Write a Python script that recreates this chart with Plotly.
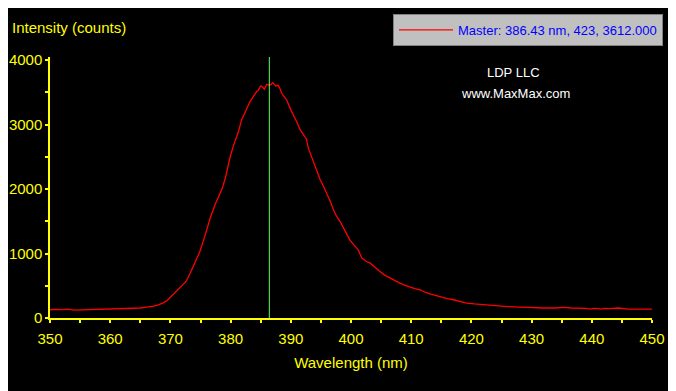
import plotly.graph_objects as go

wavelength_nm = [
    350.0, 351.0, 352.0, 353.0, 354.0, 355.0, 356.0, 357.0, 358.0, 359.0,
    360.0, 361.0, 362.0, 363.0, 364.0, 365.0, 366.0, 367.0, 368.0, 368.8,
    369.5, 370.0, 370.5, 371.0, 371.8, 372.6, 373.3, 374.1, 374.9, 375.7,
    376.6, 377.4, 378.0, 378.6, 379.1, 379.5, 379.9, 380.5, 381.3, 381.8,
    382.3, 382.7, 383.2, 383.9, 384.3, 384.6, 385.0, 385.3, 385.6, 386.0,
    386.43, 386.7, 387.0, 387.5, 387.9, 388.2, 388.5, 389.3, 390.1, 391.0,
    391.5, 392.0, 392.6, 392.9, 393.4, 394.0, 394.5, 394.9, 395.5, 396.0,
    396.6, 397.1, 397.6, 398.2, 399.0, 399.8, 400.5, 401.2, 401.8, 402.5,
    403.2, 404.0, 404.8, 405.6, 406.5, 407.3, 408.1, 409.0, 409.8, 410.6,
    411.5, 412.3, 413.1, 414.0, 414.8, 416.0, 417.0, 418.0, 419.2, 420.5,
    422.0, 423.0, 424.2, 426.0, 428.1, 429.5, 430.8, 432.0, 434.0, 435.5,
    436.5, 438.0, 439.0, 439.7, 440.3, 441.0, 441.6, 442.0, 443.0, 444.4,
    445.0, 446.0, 448.0, 450.0,
]
intensity_counts = [
    128, 135, 130, 138, 122, 125, 128, 130, 133, 136,
    138, 139, 140, 143, 150, 155, 168, 180, 205, 235,
    275, 320, 365, 412, 490, 567, 697, 851, 1031, 1263,
    1548, 1754, 1882, 2010, 2160, 2330, 2490, 2683, 2889, 3070,
    3160, 3251, 3353, 3467, 3510, 3534, 3601, 3585, 3550, 3627,
    3612, 3625, 3653, 3601, 3611, 3560, 3483, 3385, 3210, 3043,
    2930, 2860, 2775, 2640, 2520, 2373, 2245, 2141, 2030, 1935,
    1800, 1676, 1580, 1495, 1350, 1212, 1130, 1057, 929, 880,
    851, 780, 721, 665, 619, 580, 542, 505, 474, 455,
    438, 400, 376, 350, 325, 300, 283, 260, 232, 218,
    206, 196, 186, 178, 170, 162, 155, 155, 155, 165,
    155, 155, 150, 139, 148, 145, 139, 150, 145, 155,
    150, 139, 139, 139,
]

cursor_wavelength = 386.43
legend_label = "Master: 386.43 nm, 423, 3612.000"
x_ticks = [350, 360, 370, 380, 390, 400, 410, 420, 430, 440, 450]
y_ticks = [0, 1000, 2000, 3000, 4000]

FONT = "Liberation Sans, Arial, sans-serif"
YELLOW = "#ffff00"

fig = go.Figure()
fig.add_trace(go.Scatter(
    x=wavelength_nm, y=intensity_counts, mode="lines",
    line=dict(color="#ff0000", width=1.3),
    name=legend_label, showlegend=True,
))

fig.add_shape(type="line", x0=cursor_wavelength, x1=cursor_wavelength,
              y0=0, y1=1, yref="paper", xref="x",
              line=dict(color="#66ff66", width=1))

common_axis = dict(
    showgrid=False, zeroline=False, showline=True, linecolor=YELLOW,
    linewidth=1.5, tickcolor=YELLOW, tickwidth=1.5, automargin=False,
)

fig.update_layout(
    width=668, height=383,
    paper_bgcolor="#000000", plot_bgcolor="#000000",
    margin=dict(l=42, r=24, t=49, b=73, autoexpand=False),
    font=dict(family=FONT, size=15, color=YELLOW),
    xaxis=dict(
        range=[350, 450], tickvals=x_ticks, ticks="outside", ticklen=3,
        minor=dict(dtick=5, tick0=350, ticks="outside", ticklen=3, tickcolor=YELLOW, tickwidth=1.5),
        tickfont=dict(size=15, color=YELLOW, family=FONT),
        ticklabelstandoff=3,
        title=dict(text="Wavelength (nm)", font=dict(size=15, color=YELLOW, family=FONT), standoff=12),
        **common_axis,
    ),
    yaxis=dict(
        range=[0, 4050], tickvals=y_ticks, ticks="outside", ticklen=3,
        minor=dict(dtick=500, tick0=0, ticks="outside", ticklen=3, tickcolor=YELLOW, tickwidth=1.5),
        tickfont=dict(size=15, color=YELLOW, family=FONT),
        **common_axis,
    ),
    xaxis2=dict(
        overlaying="x", anchor="y", side="bottom", range=[350, 450], tickvals=x_ticks,
        ticks="inside", ticklen=3, showticklabels=False,
        minor=dict(dtick=5, tick0=350, ticks="inside", ticklen=3, tickcolor=YELLOW, tickwidth=1.5),
        **common_axis,
    ),
    yaxis2=dict(
        overlaying="y", anchor="x", side="left", range=[0, 4050], tickvals=y_ticks,
        ticks="inside", ticklen=3, showticklabels=False,
        minor=dict(dtick=500, tick0=0, ticks="inside", ticklen=3, tickcolor=YELLOW, tickwidth=1.5),
        **common_axis,
    ),
    legend=dict(
        x=(663 - 50) / 602, xanchor="right", y=1 + (57 - 14) / 261, yanchor="top",
        bgcolor="#c0c0c0", bordercolor="#808080", borderwidth=1,
        font=dict(size=13, color="#0000ff", family=FONT),
        itemwidth=54, tracegroupgap=0,
    ),
    showlegend=True,
)

fig.add_annotation(text="Intensity (counts)", xref="paper", yref="paper",
                   x=(10 - 50) / 602, y=1 + (57 - 28) / 261, xanchor="left", yanchor="middle",
                   showarrow=False, font=dict(size=15, color=YELLOW, family=FONT))
fig.add_annotation(text="LDP LLC", xref="paper", yref="paper",
                   x=(513 - 50) / 602, y=1 - (73 - 57) / 261, xanchor="center", yanchor="middle",
                   showarrow=False, font=dict(size=13, color="#ffffff", family=FONT))
fig.add_annotation(text="www.MaxMax.com", xref="paper", yref="paper",
                   x=(515 - 50) / 602, y=1 - (93 - 57) / 261, xanchor="center", yanchor="middle",
                   showarrow=False, font=dict(size=13, color="#ffffff", family=FONT))

fig.write_html("out.html")
